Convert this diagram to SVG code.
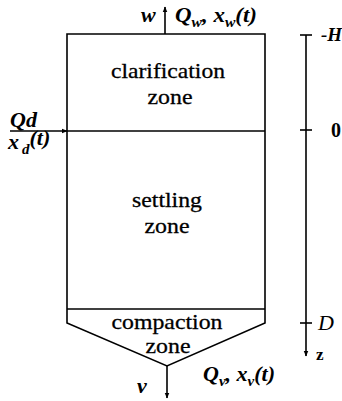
<svg xmlns="http://www.w3.org/2000/svg" width="342" height="401" viewBox="0 0 342 401">
<style>
.ln{stroke:#000;stroke-width:1.6;fill:none}
text{font-family:'Liberation Serif','DejaVu Serif',serif;fill:#000}
.t{font-size:22px;text-anchor:middle;stroke:#000;stroke-width:0.3}
.i{font-style:italic;font-size:22px;font-weight:bold}
.s{font-size:15px}
.b{font-weight:bold;font-size:20px}
.n{font-weight:normal}
</style>
<defs>
<marker id="ah" viewBox="0 0 10 10" refX="9" refY="5" markerWidth="6" markerHeight="6" orient="auto" markerUnits="userSpaceOnUse">
<path d="M0,1 L10,5 L0,9 Z" fill="#000"/>
</marker>
</defs>
<g id="tank">
<path class="ln" d="M67,34 H265 V323 L167,366 L67,323 Z"/>
</g>
<g id="clarification">
<line class="ln" x1="67" y1="131" x2="265" y2="131"/>
<text class="t" x="168" y="78" textLength="114" lengthAdjust="spacingAndGlyphs">clarification</text>
<text class="t" x="170" y="104" textLength="45" lengthAdjust="spacingAndGlyphs">zone</text>
</g>
<g id="settling">
<text class="t" x="167" y="207" textLength="70" lengthAdjust="spacingAndGlyphs">settling</text>
<text class="t" x="167" y="233" textLength="45" lengthAdjust="spacingAndGlyphs">zone</text>
</g>
<g id="compaction">
<line class="ln" x1="67" y1="309" x2="265" y2="309"/>
<text class="t" x="167" y="329" textLength="111" lengthAdjust="spacingAndGlyphs">compaction</text>
<text class="t" x="168" y="353" textLength="45" lengthAdjust="spacingAndGlyphs">zone</text>
</g>
<g id="connectors">
<line class="ln" x1="165" y1="34" x2="165" y2="7" marker-end="url(#ah)"/>
<line class="ln" x1="10" y1="131" x2="67" y2="131" marker-end="url(#ah)"/>
<line class="ln" x1="167" y1="366" x2="167" y2="398" marker-end="url(#ah)"/>
<line class="ln" x1="306" y1="35" x2="306" y2="356" marker-end="url(#ah)"/>
<line class="ln" x1="300" y1="35" x2="312" y2="35"/>
<line class="ln" x1="300" y1="130" x2="312" y2="130"/>
<line class="ln" x1="300" y1="323" x2="312" y2="323"/>
</g>
<g id="labels">
<text class="i" x="141" y="22">w</text>
<text class="i" x="175" y="22" textLength="82" lengthAdjust="spacingAndGlyphs">Q<tspan class="s" dy="5">w</tspan><tspan dy="-5">, x</tspan><tspan class="s" dy="5">w</tspan><tspan dy="-5">(t)</tspan></text>
<text class="i" x="10" y="127">Qd</text>
<text class="i" x="8" y="149">x<tspan class="s" dx="3" dy="5">d</tspan><tspan dy="-9">(t)</tspan></text>
<text class="i" x="137" y="393">v</text>
<text class="i" x="203" y="381">Q<tspan class="s" dy="5">v</tspan><tspan dy="-5">, x</tspan><tspan class="s" dy="5">v</tspan><tspan dy="-5">(t)</tspan></text>
<text class="i" x="321" y="41" style="font-size:19px">-H</text>
<text class="b" x="331" y="137">0</text>
<text class="i n" x="318" y="330">D</text>
<text class="b" x="316" y="360" style="font-size:17px">z</text>
</g>
</svg>
